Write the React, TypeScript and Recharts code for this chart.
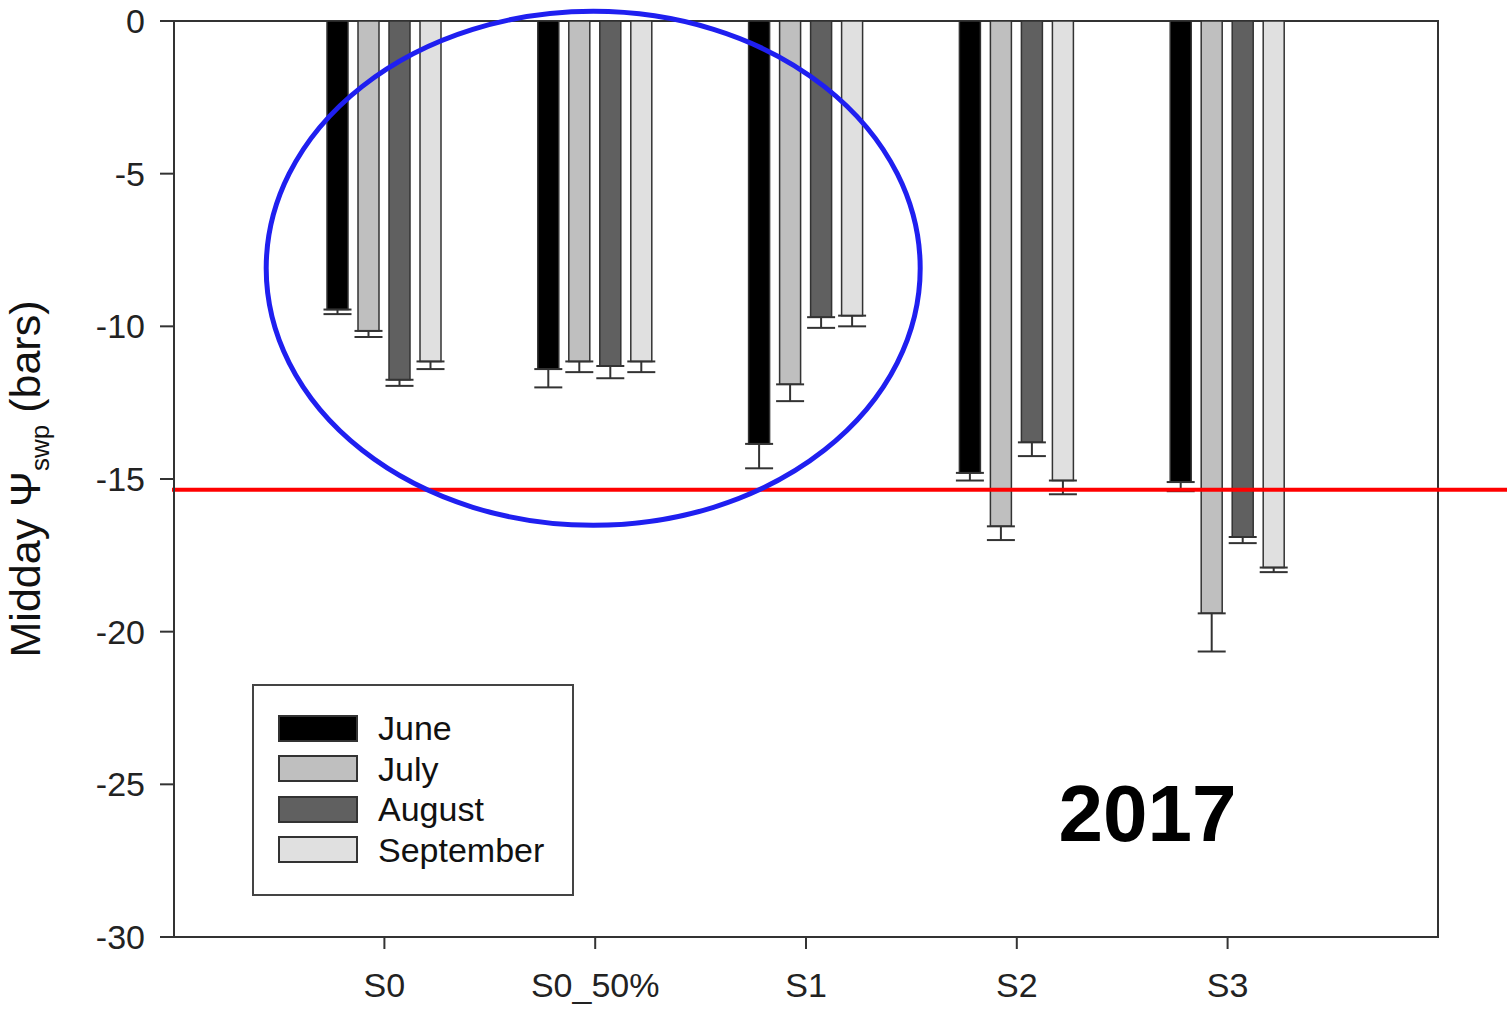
import { Bar, BarChart, ErrorBar, Legend, ReferenceArea, ReferenceDot, ReferenceLine, XAxis, YAxis } from "recharts";

const treatments = ["S0", "S0_50%", "S1", "S2", "S3"];
const months = ["June", "July", "August", "September"];
const monthColors = ["#000000", "#bfbfbf", "#606060", "#e0e0e0"];

const juneVals = [-9.45, -11.4, -13.85, -14.8, -15.1];
const juneErr = [0.15, 0.6, 0.8, 0.25, 0.3];
const julyVals = [-10.15, -11.15, -11.9, -16.55, -19.4];
const julyErr = [0.2, 0.35, 0.55, 0.45, 1.25];
const augustVals = [-11.75, -11.3, -9.7, -13.8, -16.9];
const augustErr = [0.2, 0.4, 0.35, 0.45, 0.2];
const septemberVals = [-11.15, -11.15, -9.65, -15.05, -17.9];
const septemberErr = [0.25, 0.35, 0.35, 0.45, 0.15];

const yTicks = [0, -5, -10, -15, -20, -25, -30];
const thresholdLine = -15.35;
const circleCenter = { x: "S0_50%", y: -8.1 };
const yearLabel = "2017";

const data = treatments.map((t, i) => ({
  name: t,
  June: juneVals[i],
  JuneErr: [juneErr[i], 0],
  July: julyVals[i],
  JulyErr: [julyErr[i], 0],
  August: augustVals[i],
  AugustErr: [augustErr[i], 0],
  September: septemberVals[i],
  SeptemberErr: [septemberErr[i], 0],
}));

const font = "'Liberation Sans', Arial, sans-serif";
const axisColor = "#333333";
const xPad = 105;

function LegendBox() {
  return (
    <div
      style={{
        width: 322,
        height: 212,
        boxSizing: "border-box",
        border: "2px solid #444",
        background: "#fff",
        padding: "22px 0 0 24px",
        fontFamily: font,
      }}
    >
      {months.map((m, i) => (
        <div key={m} style={{ display: "flex", alignItems: "center", height: 40.5 }}>
          <div
            style={{
              width: 80,
              height: 27,
              boxSizing: "border-box",
              background: monthColors[i],
              border: "2px solid #333",
              marginRight: 20,
            }}
          />
          <span style={{ fontSize: 34, color: "#111", lineHeight: 1 }}>{m}</span>
        </div>
      ))}
    </div>
  );
}

function YLabel({ viewBox }: any) {
  const cx = viewBox.x + 40;
  const cy = 479;
  return (
    <text
      x={cx}
      y={cy}
      transform={`rotate(-90, ${cx}, ${cy})`}
      textAnchor="middle"
      fontFamily={font}
      fontSize={43}
      fill="#111"
    >
      <tspan>Midday Ψ</tspan>
      <tspan dy={9} fontSize={26}>swp</tspan>
      <tspan dy={-9}> (bars)</tspan>
    </text>
  );
}

export default function App() {
  return (
    <div style={{ position: "absolute", left: 0, top: 0, background: "#fff" }}>
      <BarChart
        width={1507}
        height={1010}
        data={data}
        margin={{ top: 21, right: 69, left: 0, bottom: 13 }}
        barSize={21}
        barGap={10}
      >
        <XAxis
          dataKey="name"
          padding={{ left: xPad, right: xPad }}
          tickSize={12}
          tickMargin={24}
          height={60}
          axisLine={{ stroke: axisColor, strokeWidth: 2 }}
          tickLine={{ stroke: axisColor, strokeWidth: 2 }}
          tick={{ fontFamily: font, fontSize: 34, fill: "#222" }}
        />
        <YAxis
          domain={[-30, 0]}
          ticks={yTicks}
          width={174}
          tickSize={14}
          tickMargin={15}
          axisLine={{ stroke: axisColor, strokeWidth: 2 }}
          tickLine={{ stroke: axisColor, strokeWidth: 2 }}
          tick={{ fontFamily: font, fontSize: 34, fill: "#222" }}
          label={<YLabel />}
        />
        <ReferenceArea
          y1={-30}
          y2={0}
          shape={(p: any) => (
            <rect x={p.x - xPad} y={p.y} width={p.width + 2 * xPad} height={p.height} fill="none" stroke={axisColor} strokeWidth={2} />
          )}
        />
        {months.map((m, i) => (
          <Bar key={m} dataKey={m} fill={monthColors[i]} stroke="#333" strokeWidth={1.5} isAnimationActive={false}>
            <ErrorBar dataKey={`${m}Err`} direction="y" width={14} stroke="#333" strokeWidth={2} isAnimationActive={false} />
          </Bar>
        ))}
        <ReferenceLine
          y={thresholdLine}
          stroke="#ff0000"
          strokeWidth={4}
          shape={(p: any) => (
            <line x1={p.x1 - 2} y1={p.y1} x2={p.x2 + 69} y2={p.y2} stroke="#ff0000" strokeWidth={4} />
          )}
        />
        <ReferenceDot
          x={circleCenter.x}
          y={circleCenter.y}
          r={0}
          shape={(p: any) => (
            <ellipse cx={p.cx - 2} cy={p.cy} rx={327} ry={257} fill="none" stroke="#1f1ff0" strokeWidth={5} />
          )}
        />
        <ReferenceDot
          x="S3"
          y={-25.95}
          r={0}
          shape={(p: any) => (
            <text x={p.cx - 80} y={p.cy} textAnchor="middle" dominantBaseline="central" fontFamily={font} fontWeight="bold" fontSize={80} fill="#000">
              {yearLabel}
            </text>
          )}
        />
        <Legend
          layout="horizontal"
          verticalAlign="middle"
          align="center"
          content={() => <LegendBox />}
          wrapperStyle={{ left: 252, top: 684, width: 322, height: 212 }}
        />
      </BarChart>
    </div>
  );
}
